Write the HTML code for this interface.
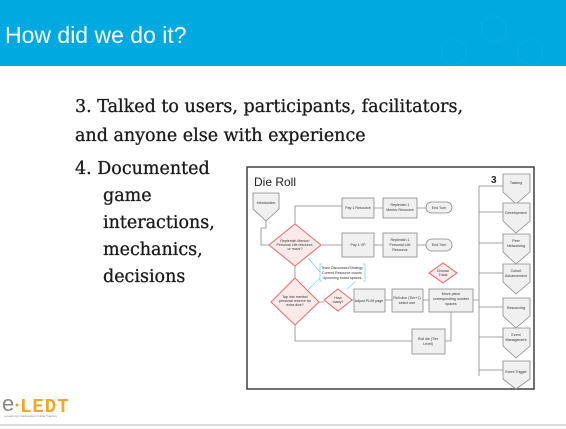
<!DOCTYPE html>
<html><head><meta charset="utf-8"><style>
body{margin:0;width:566px;height:429px;overflow:hidden;background:#fff;position:relative;font-family:"Liberation Sans",sans-serif}
.hdr{position:absolute;left:0;top:0;width:566px;height:66px;background:#00a9e0}
.hdr span{position:absolute;left:5px;top:22px;font-size:23px;color:#fff}
.t{position:absolute;font-family:"DejaVu Serif","Liberation Serif",serif;font-size:17.5px;color:#1a1a1a;white-space:nowrap;line-height:1;-webkit-text-stroke:0.3px #1a1a1a}
</style></head><body>
<div class="hdr">
<svg width="566" height="66" style="position:absolute;left:0;top:0">
<g fill="none" stroke="#12aee2" stroke-width="1.2" opacity="0.6">
<polygon points="494,15 506,22 506,36 494,43 482,36 482,22"/>
<polygon points="454,38 466,45 466,59 454,66 442,59 442,45"/>
<polygon points="530,38 542,45 542,59 530,66 518,59 518,45"/>
</g></svg>
<span>How did we do it?</span></div>
<div class="t" style="left:75px;top:99px">3.&nbsp;Talked to users, participants, facilitators,</div>
<div class="t" style="left:75px;top:128px">and anyone else with experience</div>
<div class="t" style="left:75px;top:161px">4.&nbsp;Documented</div>
<div class="t" style="left:103px;top:188px">game</div>
<div class="t" style="left:103px;top:215px">interactions,</div>
<div class="t" style="left:103px;top:242px">mechanics,</div>
<div class="t" style="left:103px;top:269px">decisions</div>

<svg width="290" height="225" style="position:absolute;left:246px;top:166px" font-family="Liberation Sans,sans-serif">
<rect x="1" y="1" width="287" height="222" fill="#fff" stroke="#333" stroke-width="1.4"/>
<text x="8" y="20" font-size="12" fill="#222">Die Roll</text>
<text x="245" y="17" font-size="10" font-weight="bold" fill="#222">3</text>
<g stroke="#888" stroke-width="0.8" fill="none">
<path d="M20,55 V62 H15 V79 H23"/>
<path d="M49,58 V40 H96"/>
<path d="M76,79 H96"/>
<path d="M128,42 H137 M171,42 H180 M128,79 H137 M171,79 H180"/>
<path d="M49,100 V112"/>
<path d="M73,136 H78 M106,134 H108 M139,134 H146 M177,134 H183"/>
<path d="M49,159 V175 H166 M199,175 H205 V146"/>
<path d="M227,134 H233 M233,20 V210"/>
<path d="M233,20 H257 M233,46 H257 M233,77 H257 M233,107 H257 M233,141 H257 M233,171 H257 M233,204 H257"/>
</g>
<g stroke="#7fd4f0" stroke-width="0.8" fill="none">
<path d="M62,92 L74,106 M62,124 L74,112 M101,123 L110,115"/>
<path d="M76,98 H74 V115 H76 M117,98 H119 V115 H117"/>
</g>
<g fill="#f0f0f0" stroke="#888" stroke-width="0.8">
<polygon points="7,27 33,27 33,43 20,55 7,43"/>
<rect x="96" y="32" width="32" height="20"/><rect x="137" y="32" width="34" height="20"/>
<rect x="180" y="36" width="26" height="11" rx="5.5"/>
<rect x="96" y="67" width="32" height="24"/><rect x="137" y="67" width="34" height="24"/>
<rect x="180" y="73" width="26" height="12" rx="6"/>
<rect x="108" y="123" width="31" height="23"/><rect x="146" y="123" width="31" height="23"/><rect x="183" y="123" width="44" height="23"/>
<rect x="166" y="163" width="33" height="25"/>
<polygon points="257,8 284,8 284,26 270,38 257,26"/>
<polygon points="257,37 284,37 284,55 270,67 257,55"/>
<polygon points="257,68 284,68 284,86 270,98 257,86"/>
<polygon points="257,98 284,98 284,116 270,128 257,116"/>
<polygon points="257,132 284,132 284,150 270,162 257,150"/>
<polygon points="257,162 284,162 284,180 270,192 257,180"/>
<polygon points="257,195 284,195 284,213 270,223 257,213"/>
</g>
<g fill="#fbeaea" stroke="#e57373" stroke-width="1.1">
<polygon points="49,58 75,79 49,100 23,79"/>
<polygon points="49,112 73,136 49,159 25,136"/>
<polygon points="92,123 106,134 92,145 78,134"/>
<polygon points="197,97 211,107 197,117 183,107"/>
</g>
<g font-size="3.6" fill="#333" text-anchor="middle">
<text x="20" y="38">Introduction</text>
<text x="112" y="43">Pay 1 Resource</text>
<text x="154" y="40">Replenish 1</text><text x="154" y="45">Mentor Resource</text>
<text x="193" y="43">End Turn</text>
<text x="112" y="80">Pay 1 VP</text>
<text x="154" y="75">Replenish 1</text><text x="154" y="80">Personal Life</text><text x="154" y="85">Resource</text>
<text x="193" y="80">End Turn</text>
<text x="49" y="76">Replenish Mentor/</text><text x="49" y="80">Personal Life resource,</text><text x="49" y="84">or move?</text>
<text x="49" y="132">Tap into mentor/</text><text x="49" y="136">personal reserve for</text><text x="49" y="140">extra dice?</text>
<text x="92" y="133">How</text><text x="92" y="137">many?</text>
<text x="197" y="106">Choose</text><text x="197" y="110">Track</text>
<text x="123" y="136">Adjust PL/M page</text>
<text x="161" y="133">Roll dice (Tier+1)</text><text x="161" y="138">select one</text>
<text x="205" y="129">Move piece</text><text x="205" y="134">corresponding number</text><text x="205" y="139">spaces</text>
<text x="182" y="174">Roll die (Tier</text><text x="182" y="179">Level)</text>
<text x="96" y="103">Team Discussion/Strategy</text><text x="96" y="108">Current Resource counts</text><text x="96" y="113">Upcoming board spaces</text>
<text x="270" y="18">Tasking</text>
<text x="270" y="48">Development</text>
<text x="270" y="76">Peer</text><text x="270" y="81">Networking</text>
<text x="270" y="106">Cohort</text><text x="270" y="111">Advancement</text>
<text x="270" y="143">Resourcing</text>
<text x="270" y="170">Event</text><text x="270" y="175">Management</text>
<text x="270" y="207">Event Trigger</text>
</g>
</svg>

<svg width="120" height="40" style="position:absolute;left:0;top:385px">
<text x="2" y="26" font-size="22" fill="#888" font-family="Liberation Sans,sans-serif">e</text>
<circle cx="17" cy="20" r="1.5" fill="#f39c12"/>
<text x="20" y="27" font-size="19" font-weight="bold" fill="#f5a623" font-family="Liberation Mono,monospace" letter-spacing="1">LEDT</text>
<text x="4" y="32" font-size="3" fill="#888">e-Learning in Education Online Training</text>
</svg>
<div style="position:absolute;left:0;top:424px;width:566px;height:2px;background:#ddd"></div>
</body></html>
